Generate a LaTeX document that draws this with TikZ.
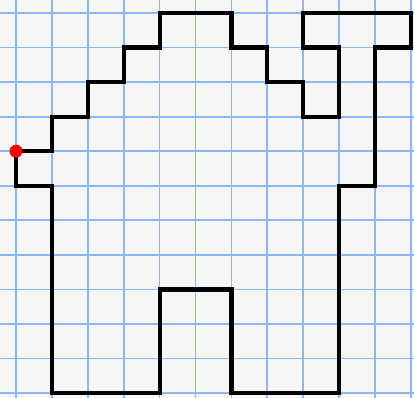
\documentclass[tikz,border=0pt]{standalone}
\begin{document}
\begin{tikzpicture}[x=1bp,y=-1bp,
  gridline/.style={draw=gridblue,line width=1.7bp},
  outline/.style={draw=black,line width=4.2bp,line join=miter,line cap=butt}]
\definecolor{gridblue}{RGB}{140,186,240}
\definecolor{paper}{RGB}{246,246,247}
\fill[paper] (0,0) rectangle (414,398);
\useasboundingbox (0,0) rectangle (414,398);
\foreach \i in {0,...,11} {
  \draw[gridline] ({16+35.9*\i},0) -- ({16+35.9*\i},398);
  \draw[gridline] (0,{13+34.55*\i}) -- (414,{13+34.55*\i});
}
\def\X#1{16+35.9*#1}
\def\Y#1{13+34.55*#1}
\draw[outline] ({\X0},{\Y4}) -- ({\X1},{\Y4}) -- ({\X1},{\Y3}) -- ({\X2},{\Y3})
  -- ({\X2},{\Y2}) -- ({\X3},{\Y2}) -- ({\X3},{\Y1}) -- ({\X4},{\Y1})
  -- ({\X4},{\Y0}) -- ({\X6},{\Y0}) -- ({\X6},{\Y1}) -- ({\X7},{\Y1})
  -- ({\X7},{\Y2}) -- ({\X8},{\Y2}) -- ({\X8},{\Y3}) -- ({\X9},{\Y3})
  -- ({\X9},{\Y1}) -- ({\X8},{\Y1}) -- ({\X8},{\Y0}) -- ({\X11},{\Y0})
  -- ({\X11},{\Y1}) -- ({\X10},{\Y1}) -- ({\X10},{\Y5}) -- ({\X9},{\Y5})
  -- ({\X9},{\Y11}) -- ({\X6},{\Y11}) -- ({\X6},{\Y8}) -- ({\X4},{\Y8})
  -- ({\X4},{\Y11}) -- ({\X1},{\Y11}) -- ({\X1},{\Y5}) -- ({\X0},{\Y5})
  -- cycle;
\fill[red] ({\X0},{\Y4}) circle (6.5bp);
\end{tikzpicture}
\end{document}
